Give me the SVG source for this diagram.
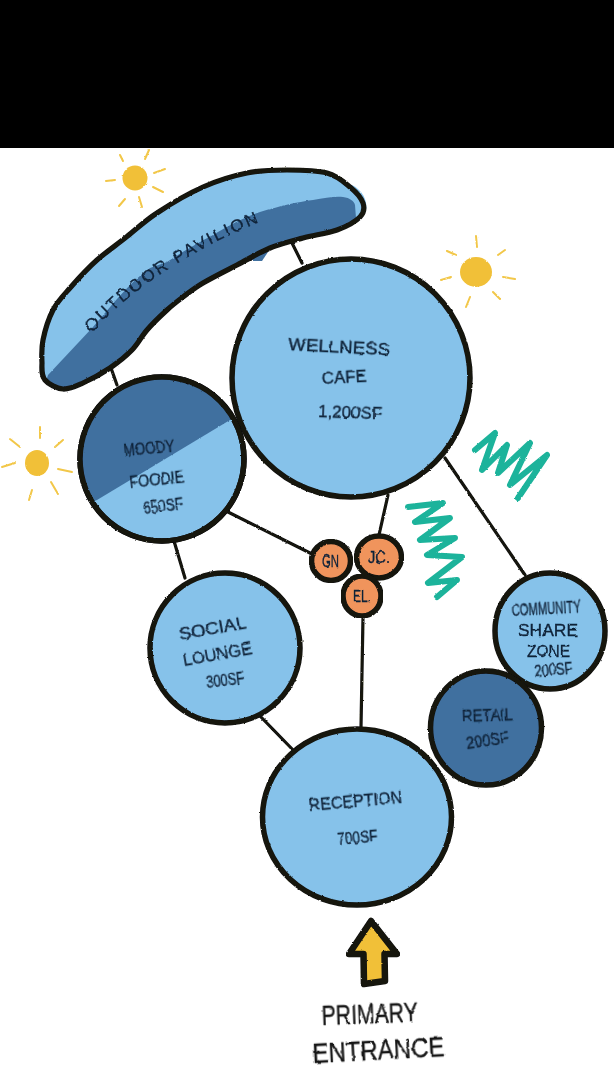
<svg xmlns="http://www.w3.org/2000/svg" width="614" height="1077" viewBox="0 0 614 1077">
<style>
.o{stroke:#12120f;stroke-width:5.5;fill:#86c2ea}
.d{fill:#41709f}
.c{stroke:#12120f;stroke-width:3.2;fill:none;stroke-linecap:round}
.r{stroke:#f2c748;stroke-width:2;fill:none;stroke-linecap:round}
.s{fill:#f1c037}
.z{stroke:#1db39b;stroke-width:6;fill:none;stroke-linecap:round;stroke-linejoin:round}
.a{fill:#f0945c;stroke:#12120f;stroke-width:5.5}
text{font-family:"Liberation Sans",Arial,sans-serif;fill:#10233a;stroke:#10233a;stroke-width:.35;font-size:17px;filter:url(#wob)}
.l{fill:#141414;stroke:#141414;font-size:28px}
</style>
<defs>
<filter id="rough" x="-5%" y="-5%" width="110%" height="110%"><feTurbulence type="fractalNoise" baseFrequency="0.35" numOctaves="2" seed="4"/><feDisplacementMap in="SourceGraphic" scale="2" xChannelSelector="R" yChannelSelector="G"/></filter>
<filter id="wob" x="-10%" y="-20%" width="120%" height="140%"><feTurbulence type="fractalNoise" baseFrequency="0.12" numOctaves="2" seed="9"/><feDisplacementMap in="SourceGraphic" scale="2.5" xChannelSelector="R" yChannelSelector="G"/></filter>
<path id="pvs" d="M42,363C41.7,356.3 41.2,348.8 43,340C44.8,331.2 48.5,318.7 53,310C57.5,301.3 62.7,296.3 70,288C77.3,279.7 87.5,268.3 97,260C106.5,251.7 117,244.5 127,236.5C137,228.5 146,220 157,213C169.7,204.5 188,193.7 203,187C218,180.3 233,175.8 247,173C261,170.2 273.7,170 287,170C300.3,170 316.5,170.2 327,173C337.5,175.8 344,182 350,187C356,192 361.3,198 363,203C364.7,208 364.3,212.5 360,217C355.7,221.5 346.5,226.5 337,230C327.5,233.5 314.2,235 303,238C291.8,241 281,243.5 270,248C259,252.5 248.2,259.2 237,265C225.8,270.8 212,277.7 203,283C194,288.3 189,292.5 183,297C177,301.5 173,304.5 167,310C161,315.5 152.8,323.3 147,330C141.2,336.7 138.2,343.7 132,350C125.8,356.3 118.2,362.5 110,368C101.8,373.5 90.8,379.5 83,383C75.2,386.5 69.3,389.5 63,389C56.7,388.5 48.5,384.3 45,380C41.5,375.7 41.7,369.7 42,363Z"/>
<clipPath id="pv"><use href="#pvs"/></clipPath>
<clipPath id="mf"><circle cx="162" cy="459" r="82"/></clipPath>
<path id="pvt" d="M92,333C115,305 175,255 265,220"/>
</defs>
<rect width="614" height="1077" fill="#fff"/>
<rect width="614" height="148" fill="#000"/>
<g id="connectors" filter="url(#rough)">
<path class="c" d="M291,241L302,263"/>
<path class="c" d="M111,368L117,385"/>
<path class="c" d="M174,541L185,578"/>
<path class="c" d="M228,512L312,554"/>
<path class="c" d="M388,495L379,535"/>
<path class="c" d="M445,458L525,575"/>
<path class="c" d="M363,617L361,727"/>
<path class="c" d="M260,716L295,752"/>
</g>
<g id="sun-1" filter="url(#rough)"><ellipse class="s" cx="135" cy="178" rx="12.5" ry="12.5"/><path class="r" d="M120,155L123,161M149,150L145,159M165,169L154,173M153,187L163,192M139,197L142,207M125,199L119,206M115,180L106,181"/></g>
<g id="sun-2" filter="url(#rough)"><ellipse class="s" cx="476" cy="272" rx="16" ry="15"/><path class="r" d="M476,236L477,247M505,250L498,255M503,277L515,279M493,292L500,299M470,297L466,307M451,277L441,280M447,251L456,255"/></g>
<g id="sun-3" filter="url(#rough)"><ellipse class="s" cx="37" cy="463" rx="12" ry="13"/><path class="r" d="M40,427L40,438M63,440L55,447M58,469L72,472M51,482L58,494M32,490L29,500M15,463L2,467M10,439L20,447"/></g>
<g id="zigzag-1" filter="url(#rough)"><path class="z" d="M475,450L495,433L482,470L507,445L498,473L530,443L510,485L547,455L518,498"/></g>
<g id="zigzag-2" filter="url(#rough)"><path class="z" d="M408,507L443,503L415,522L450,518L420,540L455,538L427,555L462,557L428,583L457,580L437,597"/></g>
<g id="outdoor-pavilion">
<g filter="url(#rough)">
<path d="M352,185C362,190 368,200 366,211L355,216Z" fill="#86c2ea"/>
<path d="M252,255L270,249L262,261L252,261Z" fill="#41709f"/>
<use href="#pvs" fill="#86c2ea"/>
<path class="d" clip-path="url(#pv)" d="M48,375L93,327C112,305 130,282 150,268L167,262C182,252 198,243 213,235C230,225 245,217 260,212C280,206 297,202 313,200C325,198 335,196 343,197C350,198 354,201 355,205L356,218L340,240L100,400L40,400Z"/>
<use href="#pvs" fill="none" stroke="#12120f" stroke-width="5.2"/>
</g>
<text font-size="19" letter-spacing="2.3"><textPath href="#pvt">OUTDOOR PAVILION</textPath></text>
</g>
<g id="wellness-cafe">
<circle class="o" cx="351" cy="378" r="119" filter="url(#rough)"/>
<text transform="rotate(3 288 350)" x="288" y="350" textLength="102" lengthAdjust="spacingAndGlyphs" font-size="24">WELLNESS</text>
<text transform="rotate(-3 322 384)" x="322" y="384" textLength="45" lengthAdjust="spacingAndGlyphs" font-size="26">CAFE</text>
<text transform="rotate(2 318 417)" x="318" y="417" textLength="64" lengthAdjust="spacingAndGlyphs" font-size="24">1,200SF</text>
</g>
<g id="moody-foodie">
<g filter="url(#rough)">
<circle class="o" cx="162" cy="459" r="82" stroke="none"/>
<path class="d" clip-path="url(#mf)" d="M97,500L230,420L240,370L70,370L70,510Z"/>
<circle cx="162" cy="459" r="82" fill="none" stroke="#12120f" stroke-width="5.5"/>
</g>
<text transform="rotate(-5 124 456)" x="124" y="456" textLength="51" lengthAdjust="spacingAndGlyphs" font-size="21">MOODY</text>
<text transform="rotate(-6 130 488)" x="130" y="488" textLength="55" lengthAdjust="spacingAndGlyphs" font-size="20">FOODIE</text>
<text transform="rotate(-7 144 514)" x="144" y="514" textLength="40" lengthAdjust="spacingAndGlyphs" font-size="19">650SF</text>
</g>
<g id="social-lounge">
<circle class="o" cx="225" cy="648" r="75" filter="url(#rough)"/>
<text transform="rotate(-10 180 640)" x="180" y="640" textLength="68" lengthAdjust="spacingAndGlyphs" font-size="23">SOCIAL</text>
<text transform="rotate(-10 184 666)" x="184" y="666" textLength="70" lengthAdjust="spacingAndGlyphs" font-size="21">LOUNGE</text>
<text transform="rotate(-7 207 688)" x="207" y="688" textLength="38" lengthAdjust="spacingAndGlyphs" font-size="17">300SF</text>
</g>
<g id="community-share">
<ellipse class="o" cx="550" cy="631" rx="55" ry="58" filter="url(#rough)"/>
<text transform="translate(512 616) rotate(-3) scale(.66 1)" font-size="17">COMMUNITY</text>
<text x="518" y="636" textLength="60" lengthAdjust="spacingAndGlyphs" font-size="18">SHARE</text>
<text x="527" y="657" textLength="43" lengthAdjust="spacingAndGlyphs" font-size="18">ZONE</text>
<text transform="rotate(-5 535 677)" x="535" y="677" textLength="38" lengthAdjust="spacingAndGlyphs" font-size="16">200SF</text>
</g>
<g id="reception">
<ellipse class="o" cx="357" cy="817" rx="94.5" ry="88" filter="url(#rough)"/>
<text transform="rotate(-5 309 811)" x="309" y="811" textLength="94" lengthAdjust="spacingAndGlyphs" font-size="22">RECEPTION</text>
<text transform="rotate(-5 338 845)" x="338" y="845" textLength="40" lengthAdjust="spacingAndGlyphs" font-size="20">700SF</text>
</g>
<g id="retail">
<ellipse class="o" cx="486" cy="728" rx="55.5" ry="57" style="fill:#41709f" filter="url(#rough)"/>
<text transform="rotate(-2 462 722)" x="462" y="722" textLength="51" lengthAdjust="spacingAndGlyphs" font-size="21">RETAIL</text>
<text transform="rotate(-8 467 749)" x="467" y="749" textLength="43" lengthAdjust="spacingAndGlyphs" font-size="20">200SF</text>
</g>
<g id="gn">
<ellipse class="a" cx="331" cy="561" rx="19.5" ry="19.5" filter="url(#rough)"/>
<text x="322" y="567" textLength="17" lengthAdjust="spacingAndGlyphs" font-size="13">GN</text>
</g>
<g id="jc">
<ellipse class="a" cx="379" cy="557" rx="22.5" ry="21" filter="url(#rough)"/>
<text x="368" y="563" textLength="22" lengthAdjust="spacingAndGlyphs" font-size="13">JC.</text>
</g>
<g id="el">
<ellipse class="a" cx="362" cy="596" rx="19" ry="20" filter="url(#rough)"/>
<text x="353" y="602" textLength="18" lengthAdjust="spacingAndGlyphs" font-size="13">EL.</text>
</g>
<g id="entrance-arrow" filter="url(#rough)">
<path d="M371,921L397,954L384.5,954L385,981L364,984L363.5,954L349,954Z" fill="#f1c037" stroke="#12120f" stroke-width="6.5" stroke-linejoin="round"/>
</g>
<g id="primary-entrance">
<text class="l" transform="rotate(-2 322 1025)" x="322" y="1025" textLength="96" lengthAdjust="spacingAndGlyphs">PRIMARY</text>
<text class="l" transform="rotate(-3 313 1063)" x="313" y="1063" textLength="132" lengthAdjust="spacingAndGlyphs">ENTRANCE</text>
</g>
</svg>
